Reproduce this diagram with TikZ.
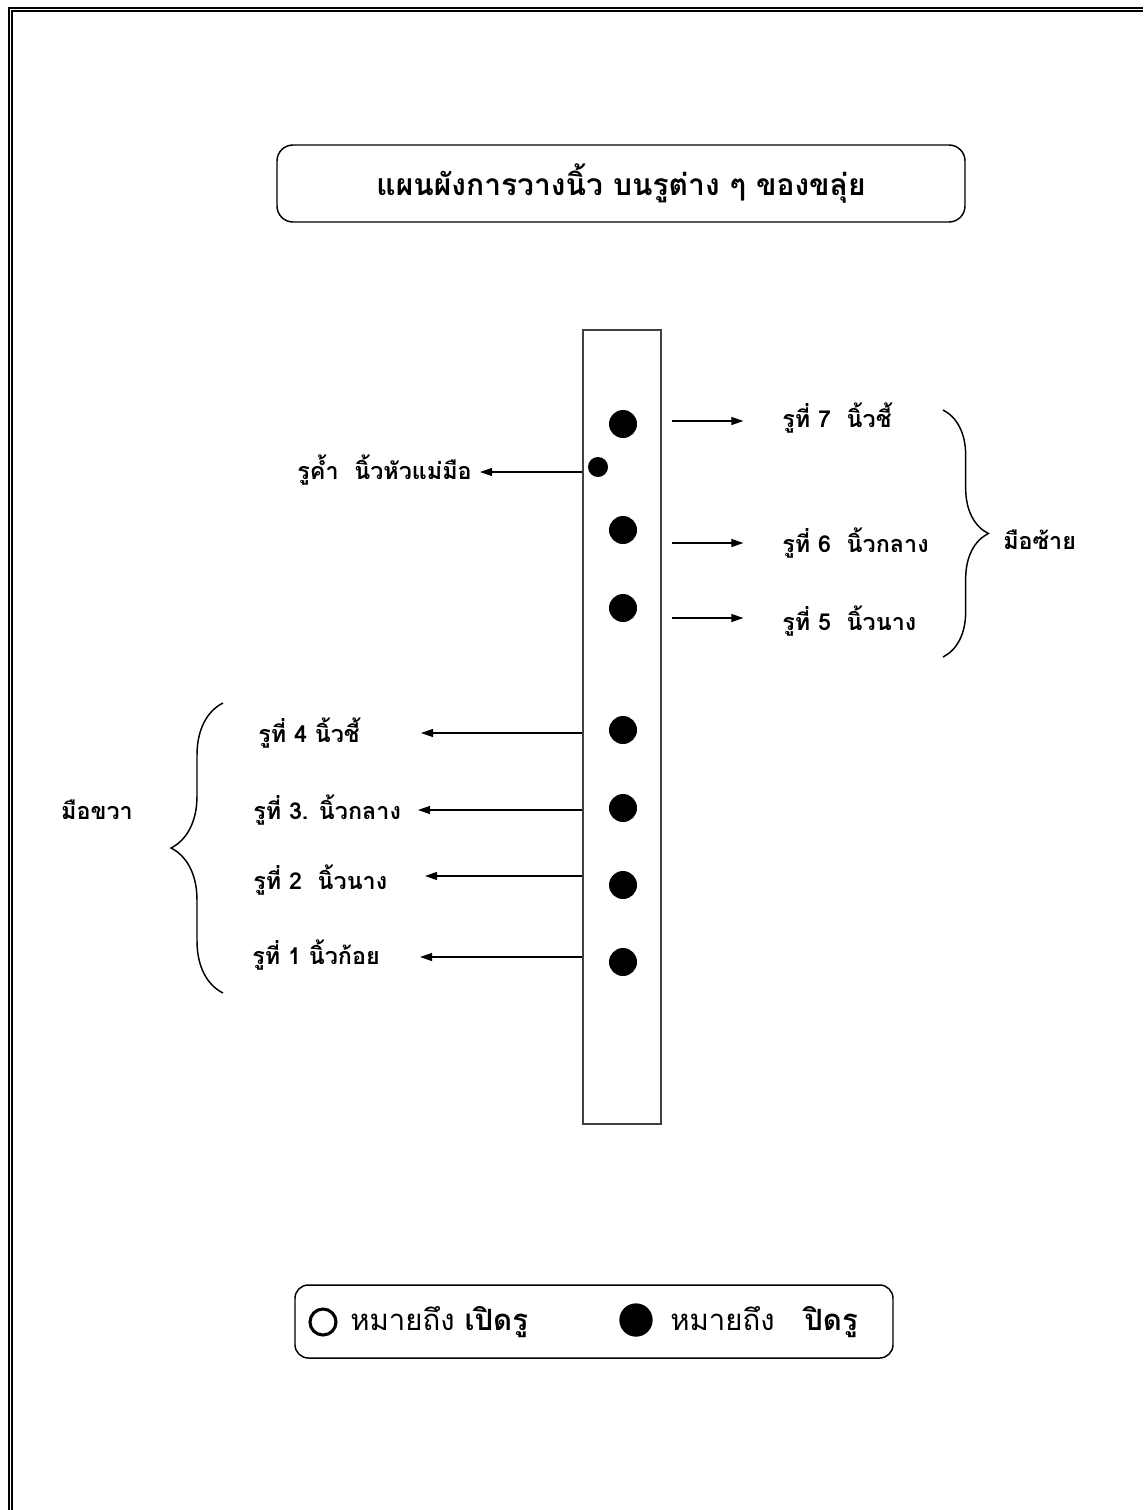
\documentclass[tikz,border=0pt]{standalone}
\usepackage{fontspec}
\newfontfamily\thaifont[Script=Thai]{Loma}
\usepackage{tikz}
\usetikzlibrary{arrows.meta,calc,positioning,decorations.pathreplacing}

\tikzset{
  hole/.style={circle,fill=black,inner sep=0pt,minimum size=21pt},
  lbl/.style={font=\thaifont\bfseries\fontsize{17.5}{20}\selectfont,inner sep=0pt},
  leg/.style={font=\thaifont\fontsize{22}{24}\selectfont,inner sep=0pt},
  arr/.style={-{Triangle[length=9pt,width=6pt]},line width=0.9pt},
  brc/.style={decorate,decoration={brace,amplitude=#1},line width=1.1pt},
  frame/.style={line width=1.5pt}
}

\begin{document}
\begin{tikzpicture}[x=0.75pt,y=-0.75pt]
\useasboundingbox (0,0) rectangle (1143,1510);
% page frame (double line, left and top)
\draw[frame] (8.5,1510) -- (8.5,7.5) -- (1143,7.5);
\draw[frame] (11.5,1510) -- (11.5,10.5) -- (1143,10.5);

% title
\node[draw,rounded corners=12pt,line width=1.1pt,minimum width=516pt,minimum height=57.75pt,
  font=\thaifont\bfseries\fontsize{22.5}{24}\selectfont] (title) at (621,183.5)
  {แผนผังการวางนิ้ว บนรูต่าง ๆ ของขลุ่ย};

% flute body and holes
\node[draw=black!75,line width=1.6pt,minimum width=58.5pt,minimum height=595.5pt,inner sep=0pt] (flute) at (622,727) {};
\foreach \n/\y in {7/424,6/530,5/608,4/730,3/808,2/885,1/962}
  \node[hole] (h\n) at (623,\y) {};
\node[hole,minimum size=15pt] (h0) at (598,467) {};

% left hand: holes 7 6 5
\node[lbl,anchor=west] (l7) at (782,418) {รูที่ 7\ \ นิ้วชี้};
\node[lbl,anchor=west] (l6) at (782,543) {รูที่ 6\ \ นิ้วกลาง};
\node[lbl,anchor=west] (l5) at (782,621) {รูที่ 5\ \ นิ้วนาง};
\foreach \n/\y in {7/421,6/543,5/618} {
  \coordinate (s\n) at (672,\y);
  \draw[arr,shorten >=29pt] (s\n) -- (s\n -| l\n.west);
}
\coordinate (rb1) at (943,410);
\coordinate (rb2) at (943,657);
\draw[brc=34pt] (rb1) -- (rb2);
\node[lbl,anchor=west] (lefthand) at (1003,540) {มือซ้าย};

% thumb hole
\node[lbl,anchor=east] (l0) at (472,470) {รูค้ำ\ \ นิ้วหัวแม่มือ};
\coordinate (t0) at (480,472);
\draw[arr] (flute.west |- t0) -- (t0);

% right hand: holes 4 3 2 1
\node[lbl,anchor=west] (l4) at (258,733) {รูที่ 4 นิ้วชี้};
\node[lbl,anchor=west] (l3) at (253,810) {รูที่ 3. นิ้วกลาง};
\node[lbl,anchor=west] (l2) at (253,880) {รูที่\ 2\ \ นิ้วนาง};
\node[lbl,anchor=west] (l1) at (252,955) {รูที่\ 1 นิ้วก้อย};
\foreach \n/\y/\x in {4/733/421,3/810/418,2/876/425,1/957/420} {
  \coordinate (t\n) at (\x,\y);
  \draw[arr] (flute.west |- t\n) -- (t\n);
}
\coordinate (lb1) at (223,993);
\coordinate (lb2) at (223,703);
\draw[brc=39pt] (lb1) -- (lb2);
\node[lbl] (righthand) at (97,810) {มือขวา};

% legend
\node[draw,rounded corners=10pt,line width=1.1pt,minimum width=448.5pt,minimum height=54.75pt] (legend) at (594,1321.5) {};
\node[circle,draw,line width=2.3pt,minimum size=19.5pt,inner sep=0pt] (open) at (323,1322) {};
\node[leg,anchor=west] (opentxt) at (350,1322) {หมายถึง \textbf{เปิดรู}};
\node[hole,minimum size=25pt] (shut) at (636,1320) {};
\node[leg,anchor=west] (shuttxt) at (670,1322) {หมายถึง\ \ \ \textbf{ปิดรู}};
\end{tikzpicture}
\end{document}
